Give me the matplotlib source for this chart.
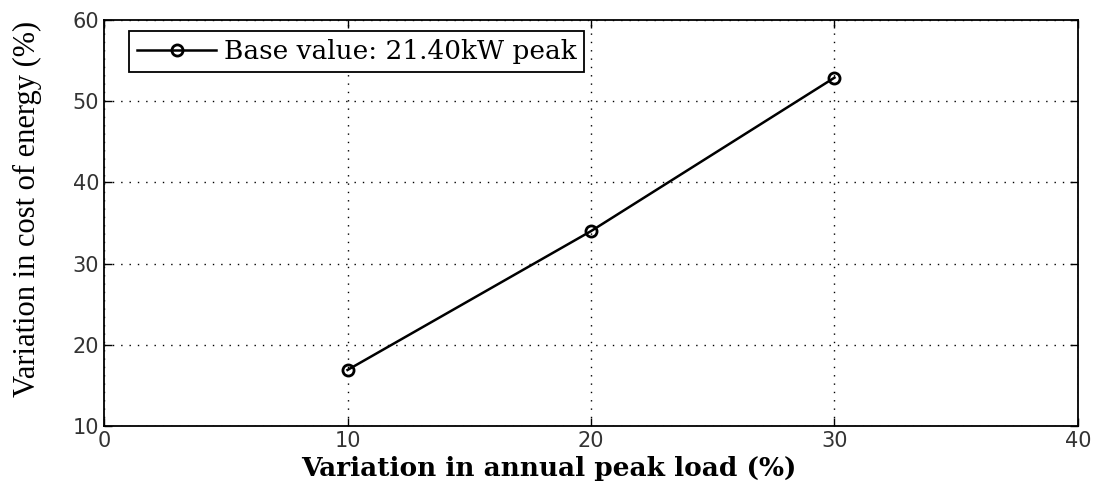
import matplotlib.pyplot as plt

# annual peak load variation (%) vs cost of energy variation (%)
load_var = [10, 20, 30]
coe_var = [16.9, 34.0, 52.9]
legend_label = 'Base value: 21.40kW peak'

fig = plt.figure(figsize=(11.03, 4.95), dpi=100)
ax = fig.add_axes([0.0943, 0.1394, 0.883, 0.8202])

ax.plot(load_var, coe_var, color='black', linewidth=1.8, marker='o',
        markersize=8, markerfacecolor='none', markeredgewidth=2,
        label=legend_label)

ax.set_xlim(0, 40)
ax.set_ylim(10, 60)
ax.set_xticks([0, 10, 20, 30, 40])
ax.set_yticks([10, 20, 30, 40, 50, 60])
ax.grid(True, color='black', linestyle=(0, (1, 5)), linewidth=1)

ax.tick_params(direction='in', length=6, top=True, right=True,
               labelsize=15, width=1)
for lab in ax.get_xticklabels() + ax.get_yticklabels():
    lab.set_family('DejaVu Sans')
    lab.set_color('#333333')
for sp in ax.spines.values():
    sp.set_linewidth(1.3)

ax.set_xlabel('Variation in annual peak load (%)', family='DejaVu Serif',
              fontsize=19, fontweight='bold')
ax.xaxis.set_label_coords(0.457, -0.075)
ax.set_ylabel('Variation in cost of energy (%)', family='Liberation Serif',
              fontsize=22)
ax.yaxis.set_label_coords(-0.064, 0.534)

leg = ax.legend(loc='upper left', bbox_to_anchor=(0.026, 0.973),
                prop={'family': 'DejaVu Serif', 'size': 19},
                fancybox=False, framealpha=1, edgecolor='black',
                borderpad=0.3, handlelength=3.0, handletextpad=0.27,
                borderaxespad=0)
leg.get_frame().set_linewidth(1.3)

fig.savefig('out.png', dpi=100)
